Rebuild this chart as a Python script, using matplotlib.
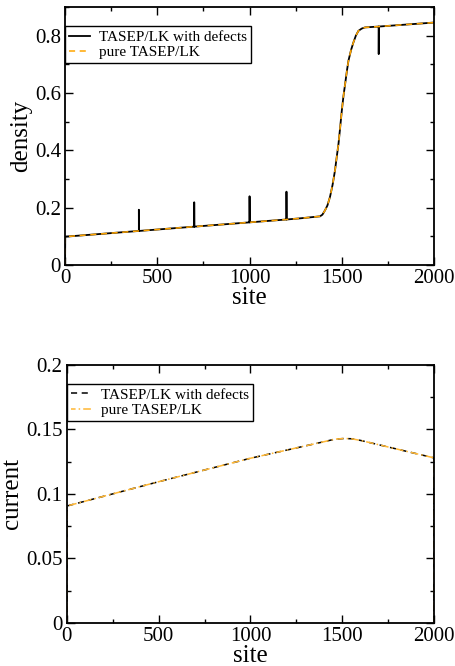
import numpy as np
import matplotlib
matplotlib.use("Agg")
import matplotlib.pyplot as plt
from matplotlib.ticker import MultipleLocator, FuncFormatter

plt.rcParams['font.family'] = ['Liberation Serif', 'DejaVu Serif']

# density profile (site, density)
pure_sites = [0, 1, 400, 700, 1000, 1200, 1274, 1382, 1395, 1409, 1422, 1436, 1450,
              1463, 1472, 1482, 1491, 1500, 1509, 1518, 1527, 1536, 1550, 1563,
              1576, 1590, 1608, 1626, 1700, 2000]
pure_density = [0.0, 0.099, 0.119, 0.134, 0.149, 0.159, 0.163, 0.170, 0.176, 0.191,
                0.208, 0.238, 0.280, 0.330, 0.375, 0.423, 0.480, 0.539, 0.590,
                0.632, 0.675, 0.713, 0.750, 0.777, 0.800, 0.817, 0.825, 0.829,
                0.832, 0.846]

# defects: site, density peak
defect_sites = [400, 700, 1000, 1200, 1700]
defect_peaks = [0.193, 0.219, 0.240, 0.256, 0.736]

# current profile (site, current)
current_sites = [0, 1, 500, 1000, 1400, 1460, 1510, 1550, 1600, 1999, 2000]
current_vals = [0.0, 0.0907, 0.1095, 0.1277, 0.1405, 0.1425, 0.1430, 0.1428,
                0.1415, 0.1280, 0.0]

# build defect density from the pure profile plus one-site spikes
d_sites = list(pure_sites)
d_vals = list(pure_density)
for s, p in zip(defect_sites, defect_peaks):
    base = np.interp(s, pure_sites, pure_density)
    d_sites += [s - 0.5, s, s + 0.5]
    d_vals += [base, p, base]
order = np.argsort(d_sites, kind='stable')
d_sites = np.array(d_sites)[order]
d_vals = np.array(d_vals)[order]

fig = plt.figure(figsize=(4.55, 6.66), dpi=100)
ax1 = fig.add_axes([0.143, 0.602, 0.811, 0.3874])
ax2 = fig.add_axes([0.147, 0.0646, 0.807, 0.3874])

ax1.plot(d_sites, d_vals, color='black', lw=1.3, label='TASEP/LK with defects')
ax1.plot(pure_sites, pure_density, color='#ffa500', lw=1.1, ls=(0, (4, 3)),
         label='pure TASEP/LK')
ax1.set_xlim(0, 2000)
ax1.set_ylim(0, 0.9)
ax1.yaxis.set_major_locator(MultipleLocator(0.2))
ax1.yaxis.set_minor_locator(MultipleLocator(0.1))
ax1.set_ylabel('density', fontsize=18, labelpad=2)

ax2.plot(current_sites, current_vals, color='black', lw=1.1, ls=(0, (4, 3)),
         label='TASEP/LK with defects')
ax2.plot(current_sites, current_vals, color='#ffb733', lw=1.1, ls=(2, (5, 2, 1, 2)),
         label='pure TASEP/LK')
ax2.set_xlim(0, 2000)
ax2.set_ylim(0, 0.2)
ax2.yaxis.set_major_locator(MultipleLocator(0.05))
ax2.yaxis.set_minor_locator(MultipleLocator(0.025))
ax2.set_ylabel('current', fontsize=18, labelpad=2)

fmt = FuncFormatter(lambda v, p: '%g' % round(v, 4))
for ax in (ax1, ax2):
    ax.xaxis.set_major_locator(MultipleLocator(500))
    ax.xaxis.set_minor_locator(MultipleLocator(250))
    ax.xaxis.set_major_formatter(fmt)
    ax.yaxis.set_major_formatter(fmt)
    ax.tick_params(which='both', direction='in', top=True, right=True,
                   labelsize=15, width=1.0, pad=3)
    ax.tick_params(which='major', length=6)
    ax.tick_params(which='minor', length=3)
    for sp in ax.spines.values():
        sp.set_linewidth(1.3)
    ax.set_xlabel('site', fontsize=18, labelpad=-1)
    leg = ax.legend(loc='upper left', bbox_to_anchor=(0.0, 0.925), fontsize=11,
                    handlelength=1.4, handletextpad=0.6, borderpad=0.25,
                    labelspacing=0.1, borderaxespad=0, fancybox=False,
                    framealpha=1, edgecolor='black')
    leg.get_frame().set_linewidth(1.0)

fig.savefig('out.png', dpi=100)
